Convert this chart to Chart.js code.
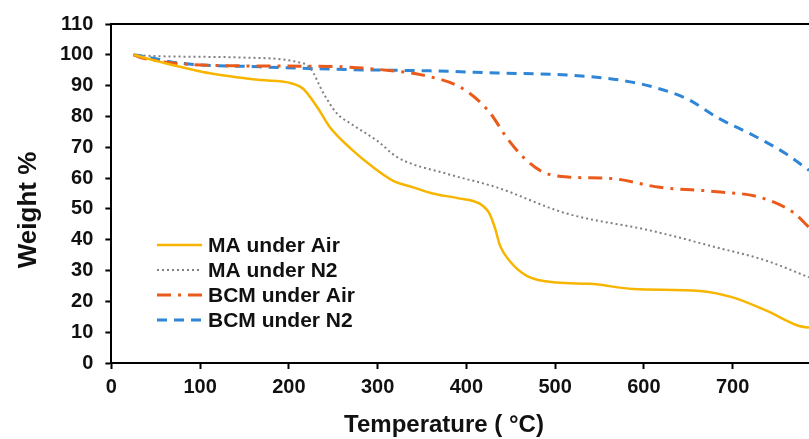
<!DOCTYPE html>
<html>
<head>
<meta charset="utf-8">
<script src="https://cdn.jsdelivr.net/npm/chart.js@4.4.0/dist/chart.umd.min.js"></script>
<style>
  html, body { margin: 0; padding: 0; background: #fff; }
  #wrap { width: 809px; height: 439px; }
</style>
</head>
<body>
<div id="wrap"><canvas id="tga"></canvas></div>
<script>
// Datos (temperatura en °C, peso en %)
const maAirX = [25, 55, 111, 168, 201, 216, 232, 246, 270, 295, 317, 340, 362, 390, 415, 426, 432, 438, 449, 468, 502, 539, 588, 663, 700, 738, 775, 786];
const maAirY = [100, 97.7, 94, 91.8, 90.9, 89, 83, 76.6, 69.5, 63.5, 59.2, 57, 55, 53.5, 51.7, 48.5, 44, 38, 33, 28.3, 26.1, 25.7, 24, 23.4, 21.3, 17, 12, 11.5];

const maN2X = [25, 47, 149, 209, 224, 239, 254, 269, 300, 322, 378, 434, 513, 607, 682, 738, 786];
const maN2Y = [100, 99.6, 99.1, 97.7, 95.7, 87.5, 81, 77.8, 72, 66.8, 61.4, 57, 48.5, 43, 37.5, 33.2, 27.8];

const bcmAirX = [25, 36, 111, 224, 261, 303, 351, 396, 426, 445, 464, 486, 516, 562, 618, 682, 730, 768, 786];
const bcmAirY = [100, 98.9, 96.6, 96.3, 96.1, 95.2, 93.4, 89, 81.4, 73.3, 66.8, 62, 60.3, 59.9, 57, 55.6, 53.8, 48.9, 44];

const bcmN2X = [25, 36, 74, 168, 269, 359, 434, 516, 573, 610, 648, 685, 723, 760, 786];
const bcmN2Y = [100, 99.5, 97.4, 96.1, 95.2, 94.8, 94.1, 93.4, 91.8, 89.6, 85.8, 79.3, 73.9, 67.9, 62.5];

const seriesNames = ['MA under Air', 'MA under N2', 'BCM under Air', 'BCM under N2'];
const yTicks = [0, 10, 20, 30, 40, 50, 60, 70, 80, 90, 100, 110];
const xTitle = 'Temperature ( °C)';
const yTitle = 'Weight %';

const toPoints = (xs, ys) => xs.map((x, i) => ({ x: x, y: ys[i] }));

const FONT = '"Liberation Sans", Arial, sans-serif';

// Leyenda dibujada dentro del área del gráfico
const innerLegend = {
  id: 'innerLegend',
  afterDraw(chart) {
    const ctx = chart.ctx;
    const x0 = 157, x1 = 202, tx = 208;
    const rows = [245, 270, 295, 320];
    chart.data.datasets.forEach((ds, i) => {
      const y = rows[i];
      ctx.save();
      ctx.strokeStyle = ds.borderColor;
      ctx.lineWidth = ds.borderWidth;
      ctx.setLineDash(ds.borderDash || []);
      ctx.beginPath();
      ctx.moveTo(x0, y);
      ctx.lineTo(x1, y);
      ctx.stroke();
      ctx.setLineDash([]);
      ctx.fillStyle = '#111';
      ctx.font = 'bold 21px ' + FONT;
      ctx.textBaseline = 'middle';
      ctx.textAlign = 'left';
      ctx.fillText(ds.label, tx, y + 1);
      ctx.restore();
    });
  }
};

// Línea superior del marco y títulos de los ejes
const frameAndTitles = {
  id: 'frameAndTitles',
  afterDraw(chart) {
    const { ctx, chartArea } = chart;
    ctx.save();
    ctx.strokeStyle = '#000';
    ctx.lineWidth = 2;
    ctx.beginPath();
    ctx.moveTo(chartArea.left, chartArea.top);
    ctx.lineTo(chart.width, chartArea.top);
    ctx.stroke();

    ctx.fillStyle = '#111';
    ctx.font = 'bold 24px ' + FONT;
    ctx.textAlign = 'center';
    ctx.textBaseline = 'alphabetic';
    ctx.fillText(xTitle, 444, 432);

    ctx.translate(36, 210);
    ctx.rotate(-Math.PI / 2);
    ctx.font = 'bold 26px ' + FONT;
    ctx.fillText(yTitle, 0, 0);
    ctx.restore();
  }
};

const ctx = document.getElementById('tga').getContext('2d');
const chart = new Chart(ctx, {
  type: 'line',
  data: {
    datasets: [
      {
        label: seriesNames[0],
        data: toPoints(maAirX, maAirY),
        borderColor: '#F7B500',
        borderWidth: 2.5,
        borderDash: []
      },
      {
        label: seriesNames[1],
        data: toPoints(maN2X, maN2Y),
        borderColor: '#808080',
        borderWidth: 2,
        borderDash: [2, 3]
      },
      {
        label: seriesNames[2],
        data: toPoints(bcmAirX, bcmAirY),
        borderColor: '#EA5B1B',
        borderWidth: 3,
        borderDash: [14, 7, 3, 7]
      },
      {
        label: seriesNames[3],
        data: toPoints(bcmN2X, bcmN2Y),
        borderColor: '#2F86D6',
        borderWidth: 3,
        borderDash: [10, 7]
      }
    ]
  },
  options: {
    responsive: true,
    maintainAspectRatio: false,
    animation: false,
    layout: { padding: { top: 12, right: 0, bottom: 34, left: 48 } },
    elements: {
      point: { radius: 0 },
      line: { tension: 0.4, cubicInterpolationMode: 'monotone', fill: false }
    },
    plugins: {
      legend: { display: false },
      tooltip: { enabled: false }
    },
    scales: {
      x: {
        type: 'linear',
        min: 0,
        max: 786,
        afterBuildTicks: (scale) => {
          scale.ticks = scale.ticks.filter(t => t.value % 100 === 0);
        },
        ticks: {
          stepSize: 100,
          autoSkip: false,
          maxRotation: 0,
          padding: 6,
          color: '#111',
          font: { family: FONT, size: 20, weight: 'bold' }
        },
        grid: { drawOnChartArea: false, drawTicks: true, tickLength: 6, tickColor: '#000', tickWidth: 2 },
        border: { color: '#000', width: 2 }
      },
      y: {
        min: 0,
        max: 110,
        afterBuildTicks: (scale) => {
          scale.ticks = yTicks.map(v => ({ value: v }));
        },
        ticks: {
          stepSize: 10,
          padding: 12,
          color: '#111',
          font: { family: FONT, size: 20, weight: 'bold' }
        },
        grid: { drawOnChartArea: false, drawTicks: true, tickLength: 6, tickColor: '#000', tickWidth: 2 },
        border: { color: '#000', width: 2 }
      }
    }
  },
  plugins: [innerLegend, frameAndTitles]
});
</script>
</body>
</html>
